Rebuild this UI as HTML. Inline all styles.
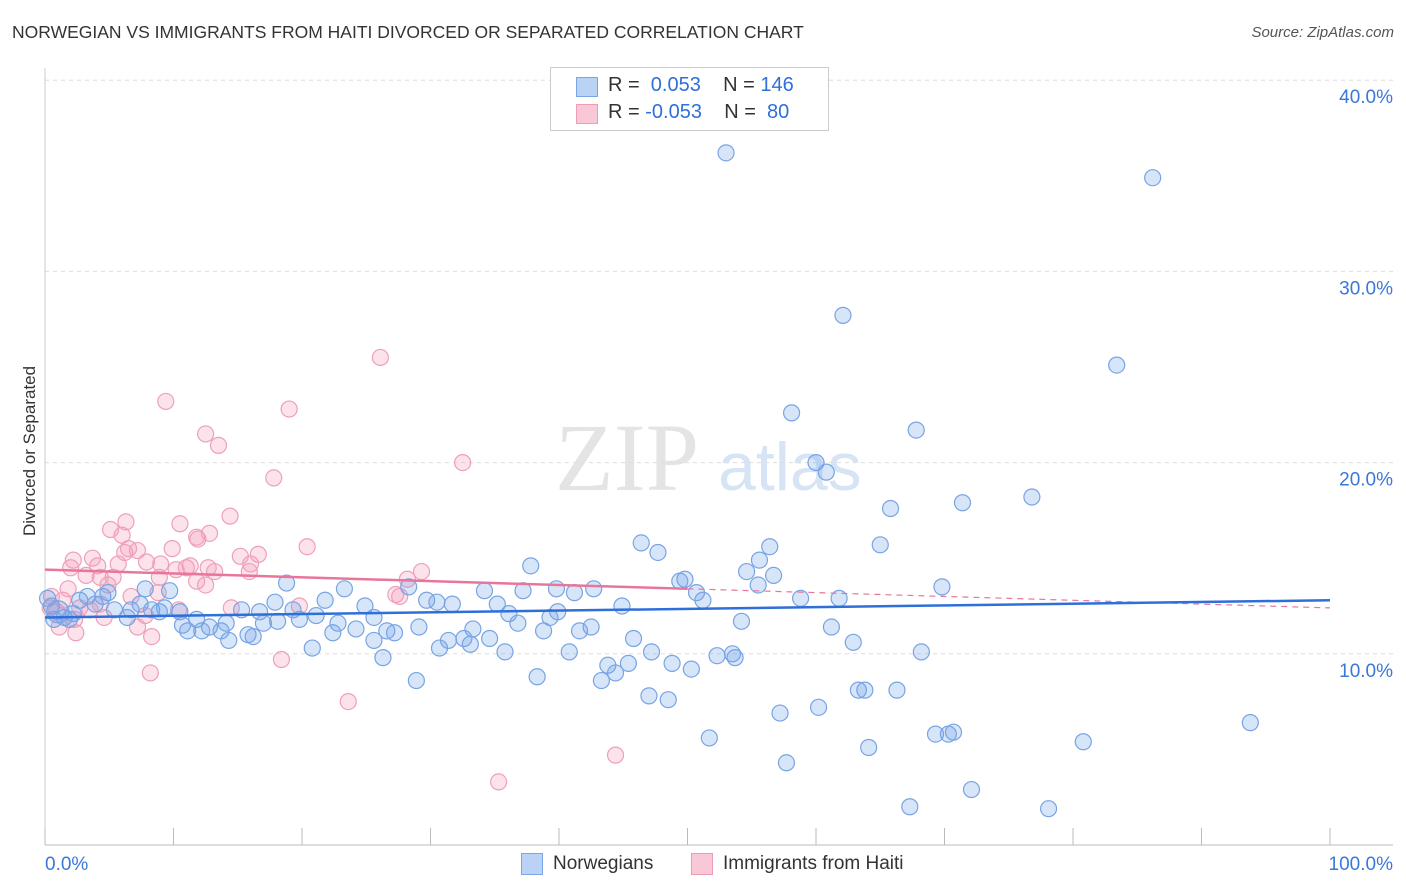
<!DOCTYPE html>
<html><head><meta charset="utf-8"><style>
body{margin:0;background:#fff;font-family:"Liberation Sans",sans-serif;}
#wrap{position:relative;width:1406px;height:892px;overflow:hidden;}
.t{position:absolute;white-space:nowrap;}
</style></head><body>
<div id="wrap">
<div class="t" style="left:12px;top:22px;font-size:17.5px;color:#333;">NORWEGIAN VS IMMIGRANTS FROM HAITI DIVORCED OR SEPARATED CORRELATION CHART</div>
<div class="t" style="right:12px;top:24px;font-size:15px;color:#555;font-style:italic;">Source: ZipAtlas.com</div>
<div class="t" style="left:-50px;top:446px;font-size:17px;color:#333;transform:rotate(-90deg);width:160px;text-align:center;">Divorced or Separated</div>
<svg id="svg" width="1406" height="892" style="position:absolute;left:0;top:0"></svg>
<div style="position:absolute;left:550px;top:67px;width:277px;height:62px;border:1px solid #ccc;background:#fff;font-size:20px;">
 <div style="position:absolute;left:25px;top:9px;width:20px;height:18px;background:#b9d2f5;border:1px solid #7aa6e6"></div>
 <div class="t" style="left:57px;top:6px;color:#333">R = <span style="color:#2f6fd8">&nbsp;0.053</span>&nbsp;&nbsp;&nbsp;&nbsp;N = <span style="color:#2f6fd8">146</span></div>
 <div style="position:absolute;left:25px;top:36px;width:20px;height:18px;background:#f9c8d6;border:1px solid #ee9db6"></div>
 <div class="t" style="left:57px;top:33px;color:#333">R = <span style="color:#2f6fd8">-0.053</span>&nbsp;&nbsp;&nbsp;&nbsp;N = <span style="color:#2f6fd8">&nbsp;80</span></div>
</div>
<div style="position:absolute;left:521px;top:853px;width:20px;height:20px;background:#b9d2f5;border:1px solid #7aa6e6"></div>
<div class="t" style="left:553px;top:853px;font-size:19px;color:#333">Norwegians</div>
<div style="position:absolute;left:691px;top:853px;width:20px;height:20px;background:#f9c8d6;border:1px solid #ee9db6"></div>
<div class="t" style="left:723px;top:853px;font-size:19px;color:#333">Immigrants from Haiti</div>
</div>
<script>
const yTicks=[10,20,30,40];
const yTickLabels=["10.0%","20.0%","30.0%","40.0%"];
const xTicks=[0,10,20,30,40,50,60,70,80,90,100];
const blueX=[53.0,86.2,62.1,83.4,58.1,67.8,60.0,60.8,76.8,71.4,65.8,46.4,47.7,56.4,65.0,55.6,37.8,54.6,49.8,56.7,49.4,69.8,55.5,18.8,28.3,23.3,39.8,42.7,34.2,37.2,50.7,41.2,9.7,58.8,61.8,51.2,29.7,21.8,17.9,35.2,31.7,30.5,24.9,44.9,15.3,19.3,39.9,16.7,36.1,39.3,25.6,21.1,19.8,22.8,18.1,17.0,14.1,11.8,54.2,36.8,61.2,38.8,24.2,26.6,29.1,41.6,42.5,22.4,27.2,33.3,12.8,10.7,13.7,15.8,16.2,14.3,25.6,45.8,32.6,31.4,34.6,62.9,30.7,33.1,20.8,35.8,40.8,47.2,68.2,52.3,53.5,53.7,26.3,43.8,45.4,48.8,44.4,50.3,38.3,43.3,28.9,63.3,63.8,66.3,47.0,48.5,93.8,60.2,57.2,51.7,70.7,69.3,70.3,80.8,64.1,57.7,72.1,67.3,78.1,0.2,0.5,1.0,1.5,2.2,2.7,3.3,3.9,4.5,4.9,5.4,6.4,6.7,7.4,7.8,8.3,8.9,9.3,10.5,11.1,12.2,0.7,1.9];
const blueY=[36.2,34.9,27.7,25.1,22.6,21.7,20.0,19.5,18.2,17.9,17.6,15.8,15.3,15.6,15.7,14.9,14.6,14.3,13.9,14.1,13.8,13.5,13.6,13.7,13.5,13.4,13.4,13.4,13.3,13.3,13.2,13.2,13.3,12.9,12.9,12.8,12.8,12.8,12.7,12.6,12.6,12.7,12.5,12.5,12.3,12.3,12.2,12.2,12.1,11.9,11.9,12.0,11.8,11.6,11.7,11.6,11.6,11.8,11.7,11.6,11.4,11.2,11.3,11.2,11.4,11.2,11.4,11.1,11.1,11.3,11.4,11.5,11.2,11.0,10.9,10.7,10.7,10.8,10.8,10.7,10.8,10.6,10.3,10.5,10.3,10.1,10.1,10.1,10.1,9.9,10.0,9.8,9.8,9.4,9.5,9.5,9.0,9.2,8.8,8.6,8.6,8.1,8.1,8.1,7.8,7.6,6.4,7.2,6.9,5.6,5.9,5.8,5.8,5.4,5.1,4.3,2.9,2.0,1.9,12.9,12.5,12.2,11.9,12.1,12.8,13.0,12.6,13.0,13.2,12.3,11.9,12.3,12.6,13.4,12.3,12.2,12.4,12.2,11.2,11.2,11.8,11.8];
const pinkX=[26.1,9.4,19.0,12.5,13.5,32.5,17.8,14.4,6.3,10.5,5.1,6.0,12.8,11.8,11.9,20.4,6.5,7.2,9.9,6.2,16.6,15.2,2.2,3.7,7.9,5.7,9.0,16.0,2.0,4.1,11.3,10.2,11.0,12.7,13.2,15.9,29.3,8.9,4.3,5.3,3.2,28.2,11.8,4.9,12.5,1.8,27.3,27.6,6.7,8.8,0.5,1.4,0.4,2.7,3.5,4.3,14.5,19.8,10.4,0.9,7.8,4.6,2.3,7.2,1.1,2.4,8.3,18.4,8.2,23.6,44.4,35.3];
const pinkY=[25.5,23.2,22.8,21.5,20.9,20.0,19.2,17.2,16.9,16.8,16.5,16.2,16.3,16.1,16.0,15.6,15.5,15.4,15.5,15.3,15.2,15.1,14.9,15.0,14.8,14.7,14.7,14.7,14.5,14.6,14.6,14.4,14.5,14.5,14.3,14.3,14.3,14.0,14.0,14.0,14.1,13.9,13.8,13.6,13.6,13.4,13.1,13.0,13.0,13.2,13.0,12.8,12.4,12.4,12.3,12.6,12.4,12.5,12.3,12.2,12.0,11.9,11.8,11.4,11.4,11.1,10.9,9.7,9.0,7.5,4.7,3.3];
const blueTrend=[11.9,12.8];
const pinkTrend=[14.4,12.4];
const pinkSolidEnd=50;
const X=v=>45+v*12.85, Y=v=>845-v*19.12;
const svg=document.getElementById('svg'),NS='http://www.w3.org/2000/svg';
function mk(t,a){const e=document.createElementNS(NS,t);for(const k in a)e.setAttribute(k,a[k]);svg.appendChild(e);return e;}
const wm=mk('text',{x:555,y:490,'font-size':96,fill:'#e4e4e4','font-family':'Liberation Serif, serif'});wm.textContent='ZIP';


const wm2=mk('text',{x:718,y:490,'font-size':68,fill:'#d6e4f5','font-family':'Liberation Sans, sans-serif'});wm2.textContent='atlas';


yTicks.forEach((v,i)=>{
 const g=mk('line',{x1:45,x2:1393,y1:Y(v),y2:Y(v),stroke:'#ddd','stroke-dasharray':'4,4'});
 
 
 const t=mk('text',{x:1393,y:Y(v)+23,'text-anchor':'end','font-size':19,fill:'#3a78d8','font-family':'Liberation Sans, sans-serif'});t.textContent=yTickLabels[i];
 
 
});
const ax=mk('line',{x1:45,x2:1393,y1:845,y2:845,stroke:'#bbb'});


const ay=mk('line',{x1:45,x2:45,y1:68,y2:845,stroke:'#ccc'});


xTicks.forEach(v=>{const l=mk('line',{x1:X(v),x2:X(v),y1:828,y2:845,stroke:'#bbb'});
 
 });
[[0,'0.0%','start',45],[100,'100.0%','end',1393]].forEach(a=>{const t=mk('text',{x:a[3],y:870,'text-anchor':a[2],'font-size':19,fill:'#3a78d8','font-family':'Liberation Sans, sans-serif'});t.textContent=a[1];
 
 });
pinkX.forEach((x,i)=>{const c=mk('circle',{cx:X(x),cy:Y(pinkY[i]),r:8,fill:'rgba(244,160,188,0.3)',stroke:'#eea0b8','stroke-width':1.2});
 
 });
blueX.forEach((x,i)=>{const c=mk('circle',{cx:X(x),cy:Y(blueY[i]),r:i==121?11:8,fill:'rgba(110,160,235,0.28)',stroke:'#78a4e4','stroke-width':1.2});
 
 });
const pm=pinkTrend[0]+(pinkTrend[1]-pinkTrend[0])*pinkSolidEnd/100;
const pd=mk('line',{x1:X(pinkSolidEnd),y1:Y(pm),x2:X(100),y2:Y(pinkTrend[1]),stroke:'#e8769c','stroke-width':1.2,'stroke-dasharray':'6,5'});


const ps=mk('line',{x1:X(0),y1:Y(pinkTrend[0]),x2:X(pinkSolidEnd),y2:Y(pm),stroke:'#e8769c','stroke-width':2.5});


const bl=mk('line',{x1:X(0),y1:Y(blueTrend[0]),x2:X(100),y2:Y(blueTrend[1]),stroke:'#2f6fd8','stroke-width':2.5});


</script>
</body></html>
